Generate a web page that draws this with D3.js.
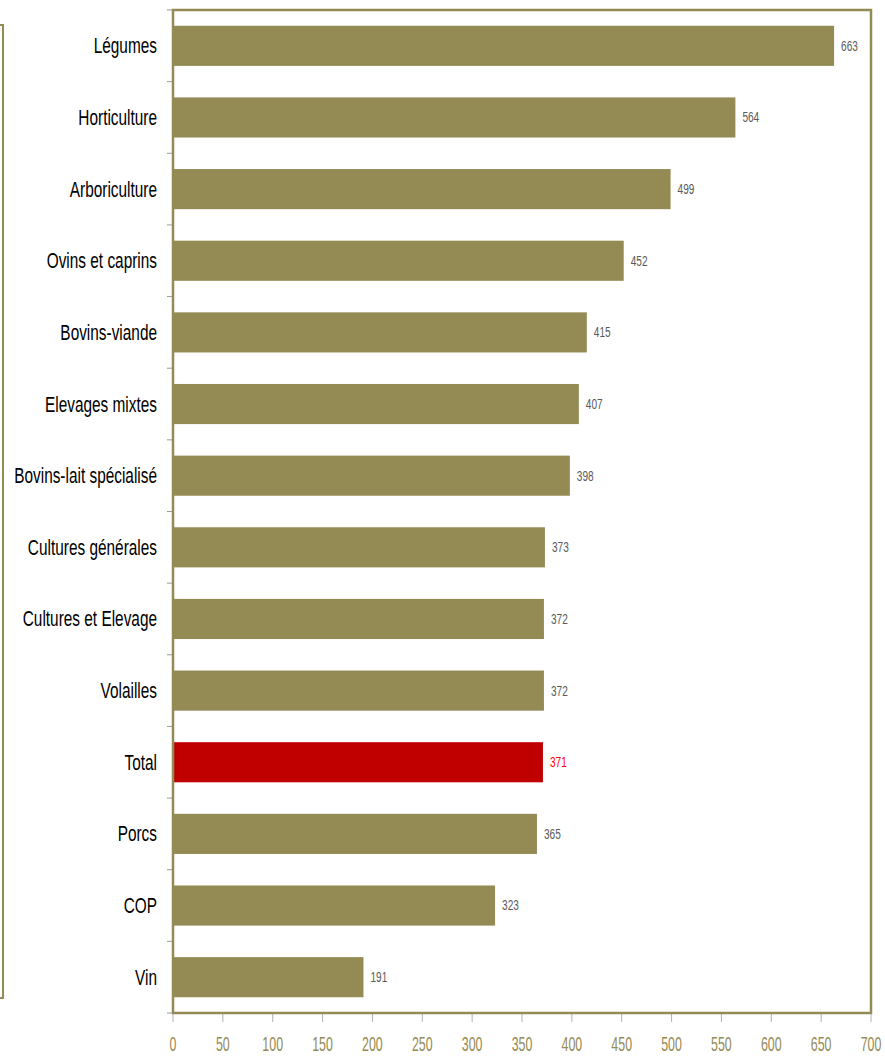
<!DOCTYPE html>
<html><head><meta charset="utf-8">
<script src="https://cdn.jsdelivr.net/npm/d3@7"></script>
<style>
body{margin:0;background:#fff;}
text{font-family:"Liberation Sans",Arial,sans-serif;}
</style></head>
<body><svg id="c" width="885" height="1058"></svg>
<script>
const categories = ["Légumes","Horticulture","Arboriculture","Ovins et caprins","Bovins-viande","Elevages mixtes","Bovins-lait spécialisé","Cultures générales","Cultures et Elevage","Volailles","Total","Porcs","COP","Vin"];
const values = [663,564,499,452,415,407,398,373,372,372,371,365,323,191];
const xTicks = [0,50,100,150,200,250,300,350,400,450,500,550,600,650,700];
const highlight = "Total";

const olive = "#948A54", red = "#C00000";
const svg = d3.select("#c");
const m = {l:173, r:871, t:10, b:1013};

const x = d3.scaleLinear().domain([0,700]).range([m.l, m.r]);
const y = d3.scaleBand().domain(categories).range([m.t, m.b]).paddingInner(0.44).paddingOuter(0.22);

// outer partial frame on the left
svg.append("path").attr("d","M0,25H3V998H0").attr("fill","none").attr("stroke",olive).attr("stroke-width",2);

// bars
svg.selectAll("rect.bar").data(categories).enter().append("rect")
  .attr("x", x(0)).attr("y", d=>y(d)).attr("height", y.bandwidth())
  .attr("width", (d,i)=>x(values[i])-x(0))
  .attr("fill", d=> d===highlight ? red : olive);

// value labels
svg.selectAll("text.val").data(categories).enter().append("text")
  .attr("transform", (d,i)=>`translate(${x(values[i])+7},${y(d)+y.bandwidth()/2}) scale(0.72,1)`)
  .attr("dy","0.35em").attr("font-size",14)
  .attr("fill", d=> d===highlight ? "#FF0000" : "#595959")
  .text((d,i)=>values[i]);

// y tick marks at band boundaries
const step = y.step();
const yt = d3.range(categories.length+1).map(i=>m.t+i*step);
svg.selectAll("line.yt").data(yt).enter().append("line")
  .attr("x1", m.l-6).attr("x2", m.l).attr("y1", d=>d).attr("y2", d=>d)
  .attr("stroke","#9a9a9a").attr("stroke-width",1);

// category labels
svg.selectAll("text.cat").data(categories).enter().append("text")
  .attr("transform", d=>`translate(${m.l-16},${y(d)+y.bandwidth()/2}) scale(0.70,1)`)
  .attr("dy","0.34em").attr("text-anchor","end").attr("font-size",22).attr("fill","#000")
  .text(d=>d);

// x axis ticks
svg.selectAll("line.xt").data(xTicks).enter().append("line")
  .attr("x1", d=>x(d)).attr("x2", d=>x(d)).attr("y1", m.b).attr("y2", m.b+9)
  .attr("stroke","#b0b0b0").attr("stroke-width",1);
svg.selectAll("text.xt").data(xTicks).enter().append("text")
  .attr("transform", d=>`translate(${x(d)},1044) scale(0.62,1)`).attr("dy","0.35em")
  .attr("text-anchor","middle").attr("font-size",20).attr("fill",olive)
  .text(d=>d);

// plot area frame
svg.append("rect").attr("x", m.l).attr("y", m.t).attr("width", m.r-m.l).attr("height", m.b-m.t)
  .attr("fill","none").attr("stroke",olive).attr("stroke-width",2.5);
</script></body></html>
